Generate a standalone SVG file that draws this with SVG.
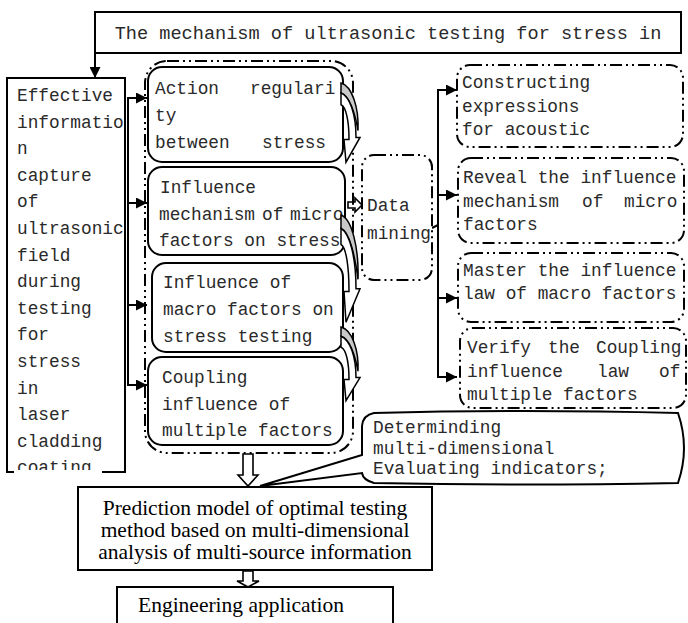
<svg xmlns="http://www.w3.org/2000/svg" width="688" height="623" viewBox="0 0 688 623">
<defs>
<style>
.box{fill:#fff;stroke:#000;stroke-width:2}
.dd{fill:none;stroke:#000;stroke-width:2;stroke-dasharray:12 4 2 4 2 4}
.ddf{fill:#fff;stroke:#000;stroke-width:2;stroke-dasharray:12 4 2 4 2 4}
.mono{font-family:"Liberation Mono","DejaVu Sans Mono",monospace;font-size:17.8px;fill:#2a2a2a}
.serif{font-family:"Liberation Serif","Times New Roman",serif;font-size:21.5px;fill:#000}
.ln{fill:none;stroke:#000;stroke-width:2}
.hol{fill:#fff;stroke:#000;stroke-width:1.6}
.cg{fill:#c8c8c8;stroke:#000;stroke-width:1.5}
.cw{fill:#fff;stroke:#000;stroke-width:1.5}
</style>
<marker id="ah" viewBox="0 0 10 10" refX="10" refY="5" markerWidth="11" markerHeight="11" markerUnits="userSpaceOnUse" orient="auto">
<path d="M0,0 L10,5 L0,10 Z" fill="#000"/>
</marker>
<clipPath id="lclip"><rect x="0" y="70" width="130" height="401"/></clipPath>
<g id="curv">
<path class="cg" vector-effect="non-scaling-stroke" d="M0,0 C11,3 18,25 17,48 C14,30 8,12 0,10 Z"/>
<path class="cw" vector-effect="non-scaling-stroke" d="M0,10 C9,14 15,32 15,55 L19,55 L5,80 L3,57 L8,57 C8,38 5,24 0,22 Z"/>
</g>
</defs>
<rect width="688" height="623" fill="#fff"/>

<g id="connectors">
<line class="ln" x1="95" y1="53" x2="95" y2="78" marker-end="url(#ah)"/>
<polyline class="ln" points="128,98 128,385"/>
<line class="ln" x1="127" y1="98" x2="147" y2="98" marker-end="url(#ah)"/>
<line class="ln" x1="128" y1="203" x2="147" y2="203" marker-end="url(#ah)"/>
<line class="ln" x1="128" y1="305" x2="147" y2="305" marker-end="url(#ah)"/>
<line class="ln" x1="127" y1="385" x2="147" y2="385" marker-end="url(#ah)"/>
<polyline class="ln" points="438,90 438,377"/>
<polyline class="ln" points="432,228 438,225"/>
<line class="ln" x1="437" y1="90" x2="457" y2="90" marker-end="url(#ah)"/>
<line class="ln" x1="438" y1="195" x2="457" y2="195" marker-end="url(#ah)"/>
<line class="ln" x1="438" y1="298" x2="457" y2="298" marker-end="url(#ah)"/>
<line class="ln" x1="437" y1="377" x2="457" y2="377" marker-end="url(#ah)"/>
<path class="hol" d="M348,202 L355,202 L355,198 L362,205 L355,212 L355,208 L348,208 Z"/>
<path class="hol" d="M243,454 L253,454 L253,475 L258,475 L248,486 L238,475 L243,475 Z"/>
<path class="hol" d="M243,571 L253,571 L253,581 L259,581 L248,587 L237,581 L243,581 Z"/>
</g>

<g id="top-box">
<rect class="box" x="95" y="12" width="586" height="41"/>
<text class="mono" style="font-size:18.6px" x="388" y="39" text-anchor="middle">The mechanism of ultrasonic testing for stress in</text>
</g>

<g id="left-box">
<rect class="box" x="7" y="78" width="118" height="394"/>
<text class="mono" clip-path="url(#lclip)" x="17" y="101">
<tspan x="17">Effective</tspan><tspan x="17" dy="26.6">informatio</tspan><tspan x="17" dy="26.6">n</tspan><tspan x="17" dy="26.6">capture</tspan><tspan x="17" dy="26.6">of</tspan><tspan x="17" dy="26.6">ultrasonic</tspan><tspan x="17" dy="26.6">field</tspan><tspan x="17" dy="26.6">during</tspan><tspan x="17" dy="26.6">testing</tspan><tspan x="17" dy="26.6">for</tspan><tspan x="17" dy="26.6">stress</tspan><tspan x="17" dy="26.6">in</tspan><tspan x="17" dy="26.6">laser</tspan><tspan x="17" dy="26.6">cladding</tspan><tspan x="17" dy="26.6">coating</tspan>
</text>
<rect x="14" y="470" width="88" height="4" fill="#fff"/>
</g>

<g id="group-frame">
<rect class="dd" x="145" y="61" width="208" height="392" rx="22"/>
</g>

<g id="action">
<rect class="box" x="148" y="67" width="195" height="95" rx="14"/>
<text class="mono" y="94"><tspan x="155">Action</tspan><tspan x="250">regulari</tspan></text>
<text class="mono" x="155" y="121">ty</text>
<text class="mono" y="148"><tspan x="155">between</tspan><tspan x="262">stress</tspan></text>
</g>

<g id="micro">
<rect class="box" x="148" y="167" width="197" height="88" rx="14"/>
<text class="mono" x="160" y="193">Influence</text>
<text class="mono" y="219.5"><tspan x="159">mechanism</tspan><tspan x="262">of</tspan><tspan x="290">micro</tspan></text>
<text class="mono" x="159" y="246">factors on stress</text>
</g>

<g id="macro">
<rect class="box" x="152" y="263" width="191" height="89" rx="14"/>
<text class="mono" x="163" y="288">Influence of</text>
<text class="mono" x="163" y="315">macro factors on</text>
<text class="mono" x="163" y="342">stress testing</text>
</g>

<g id="coupling">
<rect class="box" x="148" y="357" width="195" height="88" rx="14"/>
<text class="mono" x="162" y="383">Coupling</text>
<text class="mono" x="162" y="409.5">influence of</text>
<text class="mono" x="162" y="436">multiple factors</text>
</g>

<g id="curved-arrows">
<use href="#curv" transform="translate(341,83) scale(1,0.99)"/>
<use href="#curv" transform="translate(341,215) scale(1,1.34)"/>
<use href="#curv" transform="translate(341,327) scale(1,0.92)"/>
</g>

<g id="data-mining">
<rect class="ddf" x="362" y="155" width="70" height="125" rx="12"/>
<text class="mono" x="367" y="211">Data</text>
<text class="mono" x="367" y="239">mining</text>
</g>

<g id="constructing">
<rect class="ddf" x="457" y="65" width="226" height="82" rx="13"/>
<text class="mono" x="462" y="88">Constructing</text>
<text class="mono" x="462" y="111.5">expressions</text>
<text class="mono" x="462" y="135">for acoustic</text>
</g>

<g id="reveal">
<rect class="ddf" x="458" y="158" width="226" height="85" rx="13"/>
<text class="mono" x="463" y="183">Reveal the influence</text>
<text class="mono" y="206.5"><tspan x="463">mechanism</tspan><tspan x="582">of</tspan><tspan x="624">micro</tspan></text>
<text class="mono" x="463" y="230">factors</text>
</g>

<g id="master">
<rect class="ddf" x="458" y="253" width="226" height="69" rx="13"/>
<text class="mono" x="463" y="276">Master the influence</text>
<text class="mono" x="463" y="299">law of macro factors</text>
</g>

<g id="verify">
<rect class="ddf" x="460" y="328" width="226" height="80" rx="13"/>
<text class="mono" y="353"><tspan x="467">Verify</tspan><tspan x="548">the</tspan><tspan x="596">Coupling</tspan></text>
<text class="mono" y="376.5"><tspan x="467">influence</tspan><tspan x="597">law</tspan><tspan x="659">of</tspan></text>
<text class="mono" x="467" y="400">multiple factors</text>
</g>

<g id="callout">
<path class="box" d="M374,413 Q520,409 678,413 Q690,448 678,483 Q520,486 374,483 Q363,480 362,473 L260,486 L362,455 L362,426 Q363,415 374,413 Z"/>
<text class="mono" x="373" y="433">Determinding</text>
<text class="mono" x="373" y="454">multi-dimensional</text>
<text class="mono" x="373" y="474">Evaluating indicators;</text>
</g>

<g id="prediction">
<rect class="box" x="78" y="487" width="354" height="83"/>
<text class="serif" x="255" y="515" text-anchor="middle">Prediction model of optimal testing</text>
<text class="serif" x="255" y="537" text-anchor="middle">method based on multi-dimensional</text>
<text class="serif" x="255" y="559" text-anchor="middle">analysis of multi-source information</text>
</g>

<g id="engineering">
<rect class="box" x="117" y="587" width="276" height="45"/>
<text class="serif" x="138" y="612">Engineering application</text>
</g>
</svg>
